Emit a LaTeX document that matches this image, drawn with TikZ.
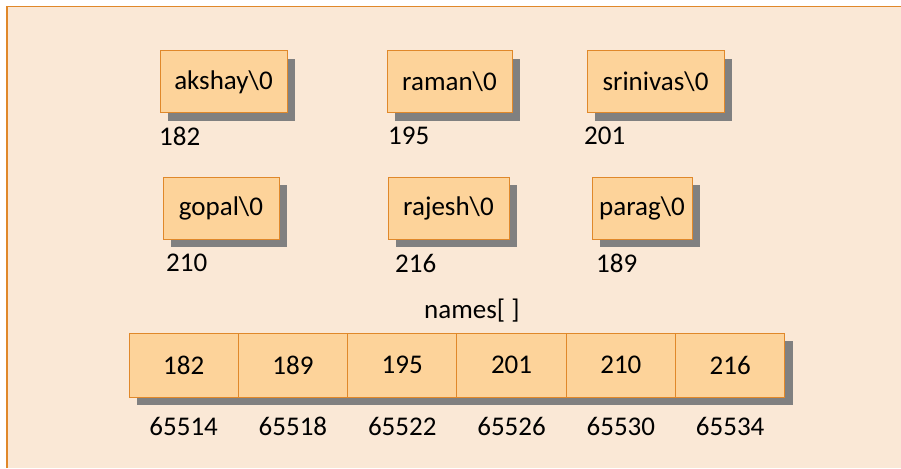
\documentclass[tikz,border=0pt]{standalone}
\usepackage{fontspec}
\setmainfont{Carlito}
\usetikzlibrary{positioning,shadows}
\definecolor{pagefill}{HTML}{FAE8D6}
\definecolor{boxfill}{HTML}{FDD39A}
\definecolor{boxline}{HTML}{E0882A}
\definecolor{shadowgray}{HTML}{808080}
\tikzset{>=latex}
\tikzstyle{strbox} = [draw=boxline,
                      fill=boxfill,
                      line width=1pt,
                      inner sep=0pt,
                      outer sep=0pt,
                      minimum height=62pt,
                      anchor=north west,
                      drop shadow={shadow xshift=8pt, shadow yshift=-8pt,
                                   fill=shadowgray, opacity=1}]
\tikzstyle{cell}   = [strbox,
                      minimum width=109.3pt,
                      minimum height=64pt]
\tikzstyle{addr}   = [inner sep=0pt]

\begin{document}
\begin{tikzpicture}[x=1pt, y=-1pt, font=\fontsize{27}{31}\selectfont]

  % Background
  \useasboundingbox (0,0) rectangle (901,468);
  \fill[pagefill] (7,6) rectangle (901,468);
  \draw[boxline, line width=1.5pt] (7,468) -- (7,6.75) -- (901,6.75);

  % Strings
  \node[strbox, minimum width=127pt] (akshay)   at (160,51)  {akshay\textbackslash0};
  \node[strbox, minimum width=125pt] (raman)    at (387,51)  {raman\textbackslash0};
  \node[strbox, minimum width=137pt] (srinivas) at (587,51)  {srinivas\textbackslash0};
  \node[strbox, minimum width=116pt] (gopal)    at (163,177) {gopal\textbackslash0};
  \node[strbox, minimum width=121pt] (rajesh)   at (388,177) {rajesh\textbackslash0};
  \node[strbox, minimum width=100pt] (parag)    at (592,177) {parag\textbackslash0};

  % String addresses
  \node[addr, below right=14pt and -1pt of akshay.south west]   (a182) {182};
  \node[addr, below right=14pt and 1pt of raman.south west]     (a195) {195};
  \node[addr, below right=14pt and -3pt of srinivas.south west] (a201) {201};
  \node[addr, below right=15pt and 3pt of gopal.south west]     (a210) {210};
  \node[addr, below right=15pt and 7pt of rajesh.south west]    (a216) {216};
  \node[addr, below right=15pt and 4pt of parag.south west]     (a189) {189};

  % Array of pointers
  \node[cell]                     (c1) at (129,333) {182};
  \node[cell, right=0pt of c1]    (c2) {189};
  \node[cell, right=0pt of c2]    (c3) {195};
  \node[cell, right=0pt of c3]    (c4) {201};
  \node[cell, right=0pt of c4]    (c5) {210};
  \node[cell, right=0pt of c5]    (c6) {216};

  \node[inner sep=0pt, anchor=base] (names)
    at ([xshift=15pt, yshift=15pt]c3.north east) {names[ ]};

  % Array addresses
  \node[addr, below=20pt of c1] (m1) {65514};
  \node[addr, below=20pt of c2] (m2) {65518};
  \node[addr, below=20pt of c3] (m3) {65522};
  \node[addr, below=20pt of c4] (m4) {65526};
  \node[addr, below=20pt of c5] (m5) {65530};
  \node[addr, below=20pt of c6] (m6) {65534};

\end{tikzpicture}
\end{document}
